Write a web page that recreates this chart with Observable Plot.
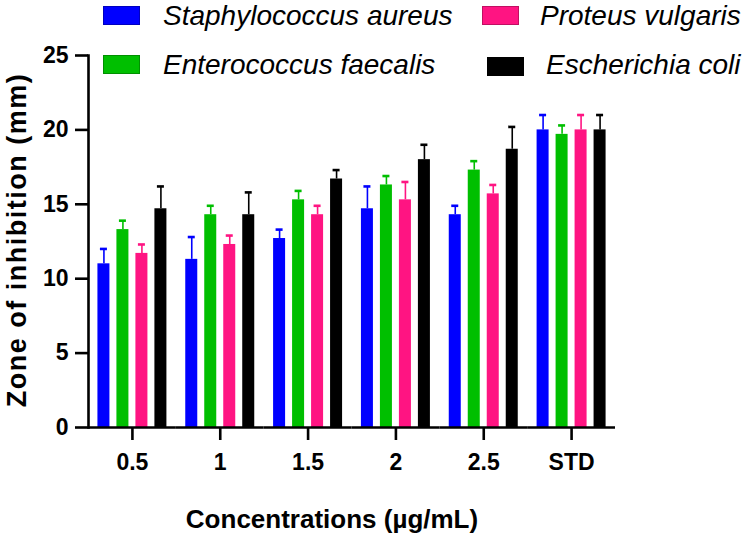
<!DOCTYPE html>
<html><head><meta charset="utf-8">
<script src="https://cdn.jsdelivr.net/npm/d3@7"></script>
<script src="https://cdn.jsdelivr.net/npm/@observablehq/plot@0.6"></script>
<style>
body{margin:0;background:#fff;}
#wrap{position:relative;width:750px;height:540px;font-family:"Liberation Sans",Arial,sans-serif;color:#000;}
#wrap svg{position:absolute;left:0;top:0;}
.leg{position:absolute;font-style:italic;font-size:28px;line-height:28px;white-space:nowrap;}
.sw{position:absolute;width:37px;height:19px;box-sizing:border-box;}
.ttl{position:absolute;font-weight:bold;font-size:26px;line-height:26px;white-space:nowrap;}
</style></head><body><div id="wrap"></div>
<script>
const concentrations = ["0.5", "1", "1.5", "2", "2.5", "STD"];
const seriesNames = ["Staphylococcus aureus", "Enterococcus faecalis", "Proteus vulgaris", "Escherichia coli"];
const seriesColors = ["#0000ff", "#00bf00", "#ff1482", "#000000"];
const staphMeans   = [11.0, 11.3, 12.7, 14.7, 14.3, 20.0];
const enteroMeans  = [13.3, 14.3, 15.3, 16.3, 17.3, 19.7];
const proteusMeans = [11.7, 12.3, 14.3, 15.3, 15.7, 20.0];
const ecoliMeans   = [14.7, 14.3, 16.7, 18.0, 18.7, 20.0];
const staphErr   = [1.0, 1.5, 0.6, 1.5, 0.6, 1.0];
const enteroErr  = [0.6, 0.6, 0.6, 0.6, 0.6, 0.6];
const proteusErr = [0.6, 0.6, 0.6, 1.2, 0.6, 1.0];
const ecoliErr   = [1.5, 1.5, 0.6, 1.0, 1.5, 1.0];
const yTicks = [0, 5, 10, 15, 20, 25];

const means = [staphMeans, enteroMeans, proteusMeans, ecoliMeans];
const errs = [staphErr, enteroErr, proteusErr, ecoliErr];
const rows = [];
concentrations.forEach((c, i) => seriesNames.forEach((s, j) => rows.push({c, s, v: means[j][i], e: errs[j][i]})));

const FONT = '"Liberation Sans", Arial, sans-serif';
const chart = Plot.plot({
  width: 750, height: 540,
  marginLeft: 88, marginRight: 135, marginTop: 55, marginBottom: 113,
  style: {fontFamily: FONT, fontSize: "23px", fontWeight: "bold", color: "#000", background: "transparent", overflow: "visible"},
  fx: {domain: concentrations, padding: 0, round: false},
  x: {domain: seriesNames, paddingInner: 0.368, paddingOuter: 0.496, round: false, axis: null},
  y: {domain: [0, 25]},
  color: {domain: seriesNames, range: seriesColors},
  marks: [
    Plot.ruleX(rows, {fx: "c", x: "s", y1: "v", y2: d => d.v + d.e, stroke: "s", strokeWidth: 1.6}),
    Plot.tickY(rows, {fx: "c", x: "s", y: d => d.v + d.e, stroke: "s", strokeWidth: 2.6, insetLeft: 2.5, insetRight: 2.5}),
    Plot.barY(rows, {fx: "c", x: "s", y: "v", fill: "s"}),
    Plot.ruleY([0], {strokeWidth: 2.6}),
    Plot.frame({anchor: "left", facetAnchor: "left", strokeWidth: 2.6}),
    Plot.axisY({ticks: yTicks, tickSize: 13, tickPadding: 7, strokeWidth: 2.6, label: null}),
    Plot.axisFx({anchor: "bottom", tickSize: 13, tickPadding: 13, strokeWidth: 2.6, label: null})
  ]
});
const wrap = document.getElementById("wrap");
wrap.appendChild(chart);

function add(cls, css, text) {
  const d = document.createElement("div");
  d.className = cls;
  d.style.cssText = css;
  if (text) d.textContent = text;
  wrap.appendChild(d);
}
const legendPos = [
  {sx: 103, sy: 6, tx: 163, ty: 2},
  {sx: 103, sy: 55, tx: 163, ty: 51},
  {sx: 482, sy: 6, tx: 540, ty: 2},
  {sx: 487, sy: 57, tx: 546, ty: 51}
];
seriesNames.forEach((s, j) => {
  const p = legendPos[j];
  const dark = d3.color(seriesColors[j]).darker(0.8).formatHex();
  add("sw", `left:${p.sx}px;top:${p.sy}px;background:${seriesColors[j]};border:1px solid ${dark};`);
  add("leg", `left:${p.tx}px;top:${p.ty}px;`, s);
});
add("ttl", "left:332px;top:506px;transform:translateX(-50%);", "Concentrations (µg/mL)");
add("ttl", "left:17px;top:240px;font-size:27px;letter-spacing:1.5px;transform:translate(-50%,-50%) rotate(-90deg);", "Zone of inhibition (mm)");
</script></body></html>
